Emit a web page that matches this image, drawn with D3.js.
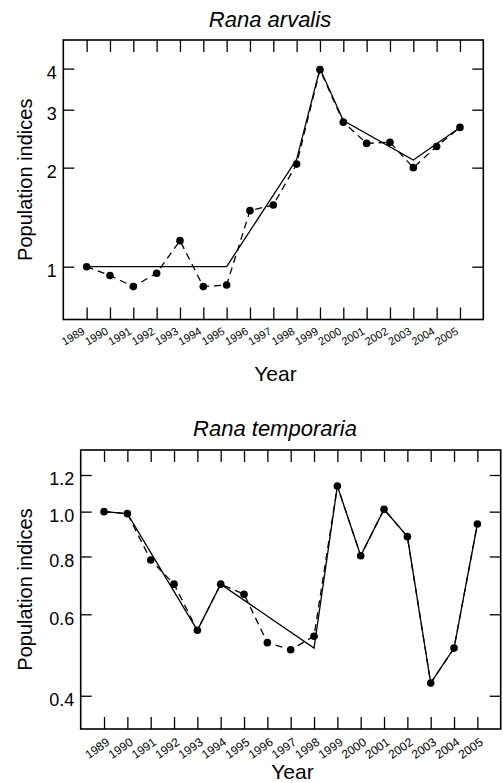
<!DOCTYPE html>
<html>
<head>
<meta charset="utf-8">
<script src="https://cdn.jsdelivr.net/npm/d3@7/dist/d3.min.js"></script>
<style>
  html, body { margin: 0; padding: 0; background: #fff; }
  svg { display: block; }
  text { font-family: "Liberation Sans", Arial, Helvetica, sans-serif; fill: #000; }
</style>
</head>
<body>
<svg id="fig" width="503" height="783"></svg>
<script>
// Survey years (shared by both panels)
const years = [1989, 1990, 1991, 1992, 1993, 1994, 1995, 1996, 1997,
               1998, 1999, 2000, 2001, 2002, 2003, 2004, 2005];

// Rana arvalis: yearly population index and piecewise trend
const arvalisIndex = [1.00, 0.94, 0.87, 0.955, 1.20, 0.87, 0.88, 1.48, 1.54,
                      2.05, 3.97, 2.75, 2.37, 2.39, 2.00, 2.32, 2.65];
const arvalisTrendYears = [1989, 1995, 1998, 1999, 2000, 2003, 2005];
const arvalisTrendValues = [1.00, 1.00, 2.12, 4.00, 2.78, 2.11, 2.65];
const arvalisTicks = [1, 2, 3, 4];
const arvalisTickLabels = ["1", "2", "3", "4"];

// Rana temporaria: yearly population index and piecewise trend
const temporariaIndex = [1.00, 0.99, 0.786, 0.697, 0.554, 0.697, 0.663, 0.521, 0.503,
                         0.538, 1.136, 0.803, 1.012, 0.883, 0.426, 0.507, 0.94];
const temporariaTrendYears = [1989, 1990, 1993, 1994, 1998, 1999, 2000, 2001, 2002, 2003, 2004, 2005];
const temporariaTrendValues = [1.00, 0.99, 0.554, 0.697, 0.507, 1.136, 0.803, 1.012, 0.883, 0.426, 0.507, 0.94];
const temporariaTicks = [0.4, 0.6, 0.8, 1.0, 1.2];
const temporariaTickLabels = ["0.4", "0.6", "0.8", "1.0", "1.2"];

const svg = d3.select("#fig");

function panel(opts) {
  const { left, right, top, bottom, yDomain, title, titleX, titleY,
          index, trendYears, trendValues, ticks, tickLabels,
          xLabelFont, xLabelAngle, xLabelDx, xLabelDy, yearX, yearY } = opts;

  const x = d3.scaleLinear().domain([1988, 2006]).range([left, right]);
  const y = d3.scaleLog().domain(yDomain).range([bottom, top]);
  const g = svg.append("g");

  // frame
  g.append("rect")
    .attr("x", left).attr("y", top)
    .attr("width", right - left).attr("height", bottom - top)
    .attr("fill", "none").attr("stroke", "#000").attr("stroke-width", 1.6);

  // bottom axis: inward ticks with rotated year labels
  const xb = g.append("g").attr("transform", `translate(0,${bottom})`)
    .call(d3.axisBottom(x).tickValues(years).tickFormat(d3.format("d"))
      .tickSizeInner(-12).tickSizeOuter(0).tickPadding(0));
  xb.select(".domain").remove();
  xb.selectAll("line").attr("stroke-width", 1.3);
  xb.selectAll("text")
    .attr("font-size", xLabelFont)
    .attr("text-anchor", "end")
    .attr("y", 0).attr("dy", 0)
    .attr("transform", `translate(${xLabelDx},${xLabelDy}) rotate(${-xLabelAngle})`);

  // top axis: inward ticks only
  const xt = g.append("g").attr("transform", `translate(0,${top})`)
    .call(d3.axisTop(x).tickValues(years).tickFormat("")
      .tickSizeInner(-12).tickSizeOuter(0));
  xt.select(".domain").remove();
  xt.selectAll("line").attr("stroke-width", 1.3);

  // left axis with labels
  const yl = g.append("g").attr("transform", `translate(${left},0)`)
    .call(d3.axisLeft(y).tickValues(ticks).tickFormat((d, i) => tickLabels[i])
      .tickSizeInner(-11).tickSizeOuter(0).tickPadding(6.5));
  yl.select(".domain").remove();
  yl.selectAll("line").attr("stroke-width", 1.3);
  yl.selectAll("text").attr("font-size", 18).attr("dy", "0.55em");

  // right axis: inward ticks only
  const yr = g.append("g").attr("transform", `translate(${right},0)`)
    .call(d3.axisRight(y).tickValues(ticks).tickFormat("")
      .tickSizeInner(-11).tickSizeOuter(0));
  yr.select(".domain").remove();
  yr.selectAll("line").attr("stroke-width", 1.3);

  // fitted trend (solid)
  const trend = trendYears.map((yr, i) => [yr, trendValues[i]]);
  g.append("path")
    .datum(trend)
    .attr("fill", "none").attr("stroke", "#000").attr("stroke-width", 1.3)
    .attr("d", d3.line().x(d => x(d[0])).y(d => y(d[1])));

  // observed indices (dashed) and points
  const obs = years.map((yr, i) => [yr, index[i]]);
  g.append("path")
    .datum(obs)
    .attr("fill", "none").attr("stroke", "#000").attr("stroke-width", 1.3)
    .attr("stroke-dasharray", "7,5")
    .attr("d", d3.line().x(d => x(d[0])).y(d => y(d[1])));
  g.selectAll("circle.pt").data(obs).enter().append("circle")
    .attr("class", "pt")
    .attr("cx", d => x(d[0])).attr("cy", d => y(d[1]))
    .attr("r", 3.8).attr("fill", "#000");

  // titles and axis labels
  g.append("text").attr("x", titleX).attr("y", titleY)
    .attr("text-anchor", "middle").attr("font-size", 22).attr("font-style", "italic")
    .text(title);
  g.append("text").attr("x", yearX).attr("y", yearY)
    .attr("text-anchor", "middle").attr("font-size", 21).text("Year");
  g.append("text")
    .attr("transform", `translate(32,${(top + bottom) / 2}) rotate(-90)`)
    .attr("text-anchor", "middle").attr("font-size", 20)
    .text("Population indices");
}

panel({
  left: 63.3, right: 483.3, top: 40, bottom: 319.5,
  yDomain: [0.691, 4.886],
  title: "Rana arvalis", titleX: 270, titleY: 27,
  index: arvalisIndex, trendYears: arvalisTrendYears, trendValues: arvalisTrendValues,
  ticks: arvalisTicks, tickLabels: arvalisTickLabels,
  xLabelFont: 11, xLabelAngle: 30, xLabelDx: -1.5, xLabelDy: 14,
  yearX: 275.5, yearY: 381
});

panel({
  left: 80.7, right: 500.7, top: 450, bottom: 729,
  yDomain: [0.339, 1.359],
  title: "Rana temporaria", titleX: 275, titleY: 436,
  index: temporariaIndex, trendYears: temporariaTrendYears, trendValues: temporariaTrendValues,
  ticks: temporariaTicks, tickLabels: temporariaTickLabels,
  xLabelFont: 12, xLabelAngle: 35, xLabelDx: 6, xLabelDy: 15,
  yearX: 292.5, yearY: 779
});
</script>
</body>
</html>
